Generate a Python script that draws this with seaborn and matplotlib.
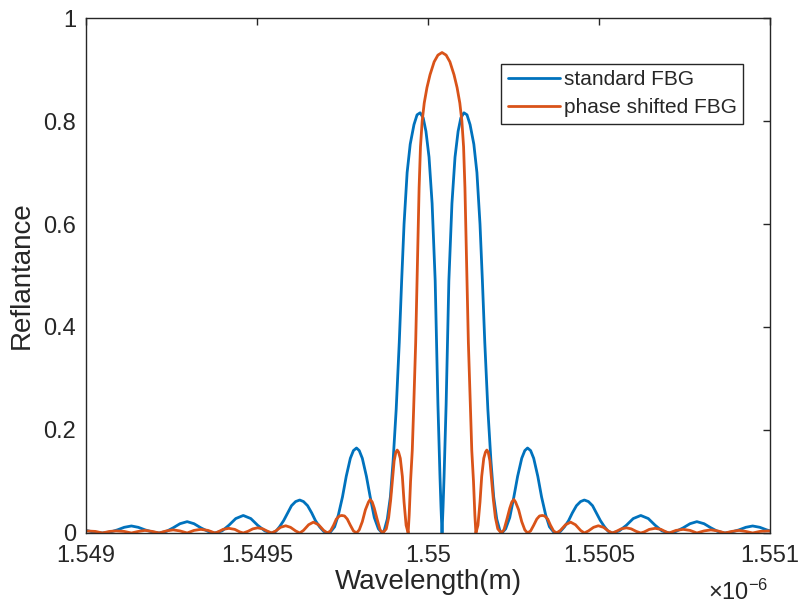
import pandas as pd
import seaborn as sns
from matplotlib import pyplot as plt

sns.set_style("white")
plt.rcParams['font.family'] = ['Liberation Sans', 'DejaVu Sans']
plt.rcParams['mathtext.fontset'] = 'custom'
plt.rcParams['mathtext.rm'] = 'Liberation Sans'

# wavelength in um (axis shows x10^-6 m), reflectance
standard_wl = [
    1.549000, 1.549028, 1.549048, 1.549072, 1.549092, 1.549112, 1.549133, 1.549153, 1.549173, 1.549194,
    1.549214, 1.549235, 1.549255, 1.549275, 1.549296, 1.549316, 1.549336, 1.549357,
    1.549377, 1.549398, 1.549418, 1.549438, 1.549460, 1.549482, 1.549502, 1.549523,
    1.549543, 1.549555, 1.549566, 1.549578, 1.549590, 1.549601, 1.549613, 1.549625,
    1.549636, 1.549648, 1.549660, 1.549671, 1.549683, 1.549695,
    1.549706, 1.549715, 1.549727, 1.549738, 1.549750, 1.549761, 1.549773, 1.549782, 1.549791,
    1.549799, 1.549808, 1.549820, 1.549831, 1.549843, 1.549855,
    1.549866, 1.549872, 1.549881, 1.549890, 1.549898, 1.549907, 1.549916, 1.549923, 1.549930, 1.549939,
    1.549948, 1.549959, 1.549968, 1.549977, 1.549986, 1.549994, 1.550003, 1.550012, 1.550021, 1.550029,
    1.550035, 1.550038,
    1.550041,
    1.550044, 1.550047, 1.550053, 1.550061, 1.550070, 1.550079, 1.550088, 1.550096, 1.550105, 1.550114,
    1.550123, 1.550134, 1.550143, 1.550152, 1.550159, 1.550166, 1.550175, 1.550184, 1.550192, 1.550201,
    1.550210,
    1.550216, 1.550227, 1.550239, 1.550251, 1.550262, 1.550274, 1.550283, 1.550291,
    1.550300, 1.550309, 1.550321, 1.550332, 1.550344, 1.550355, 1.550367,
    1.550376, 1.550387, 1.550399, 1.550411, 1.550422, 1.550434, 1.550446, 1.550457,
    1.550469, 1.550481, 1.550492, 1.550504, 1.550516, 1.550527,
    1.550539, 1.550559, 1.550580, 1.550600, 1.550622, 1.550644, 1.550664, 1.550684,
    1.550705, 1.550725, 1.550746, 1.550766, 1.550786, 1.550807, 1.550827, 1.550847,
    1.550868, 1.550888, 1.550909, 1.550929, 1.550949, 1.550970, 1.550990, 1.551000,
]
standard_r = [
    0.005, 0.001, 0.0, 0.002, 0.006, 0.011, 0.0136, 0.011, 0.006, 0.002,
    0.0, 0.003, 0.010, 0.018, 0.022, 0.018, 0.010, 0.003,
    0.0, 0.004, 0.015, 0.028, 0.034, 0.028, 0.015, 0.004,
    0.0, 0.003, 0.012, 0.024, 0.039, 0.053, 0.061, 0.064,
    0.061, 0.053, 0.039, 0.024, 0.012, 0.003,
    0.0, 0.002, 0.012, 0.035, 0.07, 0.11, 0.145, 0.16, 0.165,
    0.16, 0.145, 0.11, 0.07, 0.03, 0.008,
    0.0, 0.005, 0.027, 0.07, 0.14, 0.24, 0.37, 0.49, 0.60, 0.70,
    0.755, 0.793, 0.812, 0.816, 0.806, 0.78, 0.73, 0.64, 0.49, 0.25,
    0.11, 0.05,
    0.0,
    0.05, 0.11, 0.25, 0.49, 0.64, 0.73, 0.78, 0.806, 0.816, 0.812,
    0.793, 0.755, 0.70, 0.60, 0.49, 0.37, 0.24, 0.14, 0.07, 0.027,
    0.005,
    0.0, 0.008, 0.03, 0.07, 0.11, 0.145, 0.16, 0.165,
    0.16, 0.145, 0.11, 0.07, 0.035, 0.012, 0.002,
    0.0, 0.003, 0.012, 0.024, 0.039, 0.053, 0.061, 0.064,
    0.061, 0.053, 0.039, 0.024, 0.012, 0.003,
    0.0, 0.004, 0.015, 0.028, 0.034, 0.028, 0.015, 0.004,
    0.0, 0.003, 0.010, 0.018, 0.022, 0.018, 0.010, 0.003,
    0.0, 0.002, 0.006, 0.011, 0.0136, 0.011, 0.006, 0.004,
]

phase_wl = [
    1.549000, 1.549028, 1.549048, 1.549069, 1.549089, 1.549112, 1.549133, 1.549153, 1.549173, 1.549194,
    1.549214, 1.549235, 1.549255, 1.549275, 1.549296, 1.549316, 1.549336, 1.549357,
    1.549377, 1.549386, 1.549401, 1.549418, 1.549435, 1.549450,
    1.549460, 1.549473, 1.549488, 1.549502, 1.549517, 1.549532,
    1.549543, 1.549555, 1.549569, 1.549584, 1.549598, 1.549613,
    1.549625, 1.549636, 1.549651, 1.549665, 1.549680, 1.549695,
    1.549706, 1.549715, 1.549724, 1.549732, 1.549741, 1.549748, 1.549756, 1.549764, 1.549773, 1.549782,
    1.549791, 1.549799, 1.549808, 1.549817, 1.549826, 1.549831, 1.549837, 1.549843, 1.549852, 1.549860,
    1.549868, 1.549878, 1.549885, 1.549891, 1.549897, 1.549901, 1.549906, 1.549910,
    1.549914, 1.549919, 1.549925, 1.549930, 1.549936,
    1.549942, 1.549945, 1.549949, 1.549954, 1.549958, 1.549964, 1.549968, 1.549971, 1.549974,
    1.549978, 1.549983, 1.549989, 1.549997, 1.550006, 1.550018, 1.550029,
    1.550041,
    1.550053, 1.550064, 1.550076, 1.550085, 1.550093, 1.550099, 1.550104, 1.550108, 1.550111,
    1.550114, 1.550118, 1.550124, 1.550128, 1.550133, 1.550137, 1.550140,
    1.550146, 1.550152, 1.550157, 1.550163, 1.550168, 1.550172,
    1.550176, 1.550181, 1.550185, 1.550191, 1.550197, 1.550204, 1.550214,
    1.550222, 1.550230, 1.550239, 1.550245, 1.550251, 1.550256, 1.550265, 1.550274, 1.550283, 1.550291,
    1.550300, 1.550309, 1.550318, 1.550326, 1.550334, 1.550341, 1.550350, 1.550358, 1.550367, 1.550376,
    1.550387, 1.550402, 1.550417, 1.550431, 1.550446, 1.550457,
    1.550469, 1.550484, 1.550498, 1.550513, 1.550527, 1.550539,
    1.550550, 1.550565, 1.550580, 1.550594, 1.550609, 1.550622,
    1.550632, 1.550647, 1.550664, 1.550681, 1.550696, 1.550705,
    1.550725, 1.550746, 1.550766, 1.550786, 1.550807, 1.550827, 1.550847, 1.550868,
    1.550888, 1.550909, 1.550929, 1.550949, 1.550970, 1.550993, 1.551000,
]
phase_r = [
    0.004, 0.003, 0.0, 0.003, 0.004, 0.003, 0.0, 0.003, 0.005, 0.003,
    0.0, 0.004, 0.006, 0.004, 0.0, 0.005, 0.007, 0.005,
    0.0, 0.002, 0.007, 0.009, 0.007, 0.002,
    0.0, 0.003, 0.008, 0.010, 0.008, 0.003,
    0.0, 0.004, 0.011, 0.014, 0.011, 0.004,
    0.0, 0.005, 0.016, 0.021, 0.016, 0.005,
    0.0, 0.004, 0.015, 0.027, 0.033, 0.034, 0.033, 0.027, 0.015, 0.004,
    0.0, 0.006, 0.022, 0.045, 0.06, 0.065, 0.06, 0.048, 0.025, 0.006,
    0.0, 0.008, 0.03, 0.065, 0.11, 0.14, 0.157, 0.161,
    0.157, 0.145, 0.11, 0.06, 0.015,
    0.0, 0.035, 0.10, 0.16, 0.24, 0.37, 0.49, 0.58, 0.67,
    0.75, 0.80, 0.835, 0.865, 0.89, 0.915, 0.928,
    0.933,
    0.928, 0.915, 0.89, 0.865, 0.835, 0.80, 0.75, 0.67, 0.58,
    0.49, 0.37, 0.24, 0.16, 0.10, 0.035, 0.0,
    0.015, 0.06, 0.11, 0.145, 0.157, 0.161,
    0.157, 0.14, 0.11, 0.065, 0.03, 0.008, 0.0,
    0.006, 0.025, 0.048, 0.06, 0.065, 0.06, 0.045, 0.022, 0.006, 0.0,
    0.004, 0.015, 0.027, 0.033, 0.034, 0.033, 0.027, 0.015, 0.004, 0.0,
    0.005, 0.016, 0.021, 0.016, 0.005, 0.0,
    0.004, 0.011, 0.014, 0.011, 0.004, 0.0,
    0.003, 0.008, 0.010, 0.008, 0.003, 0.0,
    0.002, 0.007, 0.009, 0.007, 0.002, 0.0,
    0.005, 0.007, 0.005, 0.0, 0.004, 0.006, 0.004, 0.0,
    0.003, 0.005, 0.003, 0.0, 0.003, 0.004, 0.004,
]

series_names = ['standard FBG', 'phase shifted FBG']
colors = ['#0072BD', '#D95319']

df = pd.concat([
    pd.DataFrame({'wl': standard_wl, 'r': standard_r, 'curve': series_names[0]}),
    pd.DataFrame({'wl': phase_wl, 'r': phase_r, 'curve': series_names[1]}),
], ignore_index=True)

fig = plt.figure(figsize=(8.03, 6.11), dpi=100)
ax = fig.add_axes([0.107, 0.1277, 0.852, 0.8428])

sns.lineplot(data=df, x='wl', y='r', hue='curve', hue_order=series_names,
             palette=colors, estimator=None, sort=False, linewidth=2, ax=ax)

ax.set_xlim(1.549, 1.551)
ax.set_ylim(0, 1)
ax.set_xticks([1.549, 1.5495, 1.55, 1.5505, 1.551])
ax.set_xticklabels(['1.549', '1.5495', '1.55', '1.5505', '1.551'])
ax.set_yticks([0, 0.2, 0.4, 0.6, 0.8, 1])
ax.set_yticklabels(['0', '0.2', '0.4', '0.6', '0.8', '1'])

ax.tick_params(direction='in', length=5, width=1, colors='#262626',
               labelsize=17, top=True, right=True)
ax.tick_params(axis='x', pad=9)
ax.tick_params(axis='y', pad=7)
for s in ax.spines.values():
    s.set_color('#262626')
    s.set_linewidth(1)

ax.set_xlabel('Wavelength(m)', fontsize=20, color='#262626', labelpad=1)
ax.set_ylabel('Reflantance', fontsize=20, color='#262626', labelpad=6)

fig.text(0.957, 0.010, r'$\times\mathregular{10^{-6}}$', fontsize=17,
         color='#262626', ha='right', va='bottom')

leg = ax.legend(loc='upper right', bbox_to_anchor=(0.9605, 0.911),
                fontsize=15, frameon=True, fancybox=False, framealpha=1,
                handlelength=2.5, handletextpad=0.2, labelspacing=0.45,
                borderpad=0.3, borderaxespad=0)
leg.get_frame().set_edgecolor('#262626')
leg.get_frame().set_linewidth(1)
for line in leg.get_lines():
    line.set_linewidth(2)

fig.savefig('out.png', dpi=100)
